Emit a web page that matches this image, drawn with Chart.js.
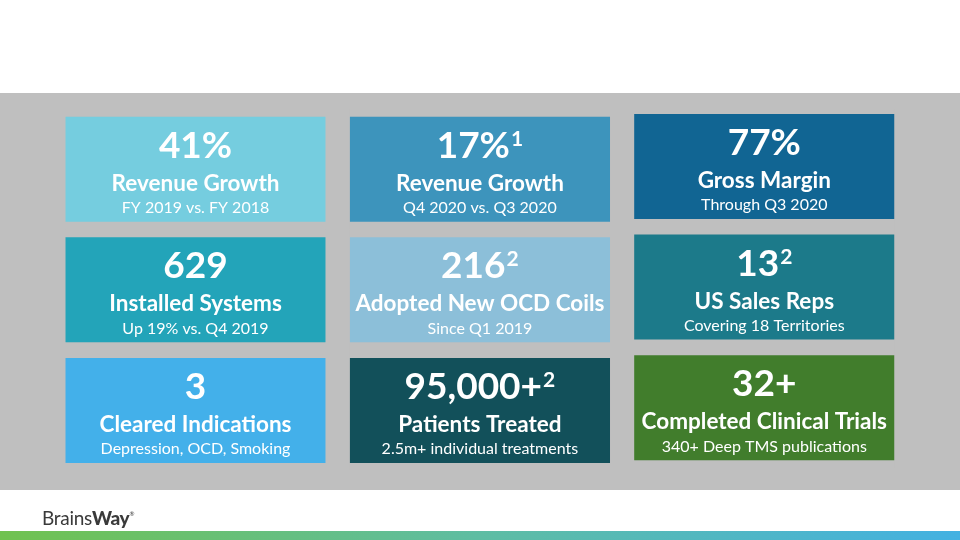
<!DOCTYPE html>
<html>
<head>
<meta charset="utf-8">
<script src="https://cdn.jsdelivr.net/npm/chart.js@4/dist/chart.umd.min.js"></script>
<style>
  html, body { margin: 0; padding: 0; background: #ffffff; }
  #slide { position: relative; width: 960px; height: 540px; overflow: hidden; background: #ffffff; }
  #band { position: absolute; left: 0; top: 93px; width: 960px; height: 397px; background: #bfbfbf; }
  #logo { position: absolute; left: 42px; top: 506px; font-family: Lato, sans-serif; font-size: 19px; color: #3a3a3a; letter-spacing: -0.3px; }
  #logo b { font-weight: 900; }
  #logo sup { font-size: 6px; vertical-align: 9px; }
  #stripe { position: absolute; left: 0; top: 531px; width: 960px; height: 9px; background: linear-gradient(to right, #70c24f 0%, #5ebda3 50%, #43b1e2 100%); }
  #chart-wrap { position: absolute; left: 0; top: 0; width: 960px; height: 540px; }
</style>
</head>
<body>
<div id="slide">
  <div id="band"></div>
  <div id="chart-wrap"><canvas id="tiles" width="960" height="540"></canvas></div>
  <div id="logo">Brains<b>Way</b><sup>&reg;</sup></div>
  <div id="stripe"></div>
</div>
<script>
// grid: 3 columns x 3 rows, every tile is one cell of weight 1
const columns = ['Left', 'Middle', 'Right'];
const rows = ['Top', 'Center', 'Bottom'];
const leftCells = [1, 1, null];
const rightCells = [null, null, 1];

// tile texts, read row by row
const metrics = ['41%', '17%', '77%', '629', '216', '13', '3', '95,000+', '32+'];
const footnotes = ['', '1', '', '', '2', '2', '', '2', ''];
const titles = [
    'Revenue Growth', 'Revenue Growth', 'Gross Margin',
    'Installed Systems', 'Adopted New OCD Coils', 'US Sales Reps',
    'Cleared Indications', 'Patients Treated', 'Completed Clinical Trials'
];
const subtitles = [
    'FY 2019 vs. FY 2018', 'Q4 2020 vs. Q3 2020', 'Through Q3 2020',
    'Up 19% vs. Q4 2019', 'Since Q1 2019', 'Covering 18 Territories',
    'Depression, OCD, Smoking', '2.5m+ individual treatments', '340+ Deep TMS publications'
];

const tileColors = [
    '#75cddf', '#3d94bc', '#116593',
    '#23a4b9', '#8cbfd9', '#1c7a8a',
    '#43b0ea', '#12505a', '#417d2c'
];
const gapColor = '#bfbfbf';
const gap = 7.8;

const tileText = {
    id: 'tileText',
    afterDatasetsDraw(chart) {
        const ctx = chart.ctx;
        ctx.save();
        ctx.fillStyle = '#ffffff';
        ctx.textBaseline = 'alphabetic';
        chart.data.datasets.forEach((ds, d) => {
            const meta = chart.getDatasetMeta(d);
            meta.data.forEach((bar, c) => {
                if (ds.data[c] == null) return;
                const i = ds.row * columns.length + c;
                const p = bar.getProps(['x', 'y', 'base'], true);
                const top = Math.min(p.y, p.base) + gap;
                const cx = p.x;

                // big number with optional footnote mark
                ctx.font = 'bold 37px Lato';
                const mw = ctx.measureText(metrics[i]).width;
                ctx.font = 'bold 21px Lato';
                const sw = footnotes[i] ? ctx.measureText(footnotes[i]).width + 1 : 0;
                const start = cx - (mw + sw) / 2;
                ctx.textAlign = 'left';
                ctx.font = 'bold 37px Lato';
                ctx.fillText(metrics[i], start, top + 41);
                if (footnotes[i]) {
                    ctx.font = 'bold 21px Lato';
                    ctx.fillText(footnotes[i], start + mw + 1, top + 29);
                }

                ctx.textAlign = 'center';
                ctx.font = 'bold 22.5px Lato';
                ctx.fillText(titles[i], cx, top + 74);
                ctx.font = '16px Lato';
                ctx.fillText(subtitles[i], cx, top + 96.5);
            });
        });
        ctx.restore();
    }
};

const barStyle = {
    borderColor: gapColor,
    borderWidth: { top: gap, bottom: gap, left: 0, right: 0 },
    borderSkipped: false,
    inflateAmount: 0,
    stack: 'grid',
    categoryPercentage: 0.9156,
    barPercentage: 1
};

let datasets = [];
rows.forEach((name, r) => {
    const colors = tileColors.slice(r * 3, r * 3 + 3);
    datasets.push(Object.assign({ label: name, row: r, data: leftCells, backgroundColor: colors, yAxisID: 'y' }, barStyle));
    datasets.push(Object.assign({ label: name, row: r, data: rightCells, backgroundColor: colors, yAxisID: 'y2' }, barStyle));
});

new Chart(document.getElementById('tiles'), {
    type: 'bar',
    data: {
        labels: columns,
        datasets
    },
    options: {
        responsive: false,
        animation: false,
        devicePixelRatio: 1,
        layout: {
            padding: { left: 53.3, right: 53.5, top: 108.9, bottom: 69.3 }
        },
        plugins: {
            legend: { display: false },
            tooltip: { enabled: false }
        },
        scales: {
            x: { stacked: true, display: false, grid: { display: false } },
            y: { stacked: true, display: false, reverse: true, min: 0, max: 3, grid: { display: false } },
            // right column sits a few pixels higher on the slide
            y2: { stacked: true, display: false, reverse: true, min: 0.0224, max: 3.0224, grid: { display: false } }
        }
    },
    plugins: [tileText]
});
</script>
</body>
</html>
